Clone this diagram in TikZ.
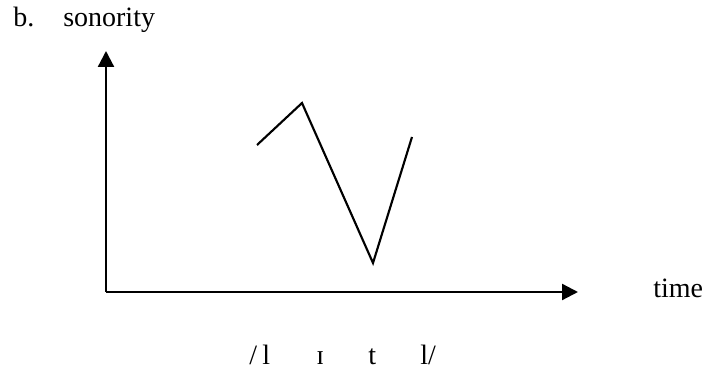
\documentclass[tikz,border=0pt]{standalone}
\usepackage{fontspec}
\setmainfont{Liberation Serif}
\usetikzlibrary{arrows.meta}
\begin{document}
\begin{tikzpicture}[x=0.75pt,y=-0.75pt,
  txt/.style={inner sep=0pt,anchor=base west,font=\fontsize{21}{25}\selectfont},
  axis/.style={line width=1.7pt,-{Triangle[length=12pt,width=12pt]}},
  contour/.style={line width=1.6pt,line join=miter}]
\useasboundingbox (0,0) rectangle (708,373);
\node[txt] (lab) at (13,27) {b.};
\node[txt] (son) at (63,27) {sonority};
\node[txt] (time) at (653,298) {time};
\node[txt] (s1) at (249,365) {/};
\node[txt] (p1) at (262,365) {l};
\node[txt] (p2) at (316,365) {ɪ};
\node[txt] (p3) at (368,365) {t};
\node[txt] (p4) at (420,365) {l/};
\coordinate (o) at (106,292);
\coordinate (ytip) at (106,51);
\coordinate (xtip) at (578,292);
\draw[axis] (o) -- (ytip);
\draw[axis] (o) -- (xtip);
\coordinate (a) at (257,145);
\coordinate (b) at (302,103);
\coordinate (c) at (373,263);
\coordinate (d) at (412,137);
\draw[contour] (a) -- (b) -- (c) -- (d);
\end{tikzpicture}
\end{document}
